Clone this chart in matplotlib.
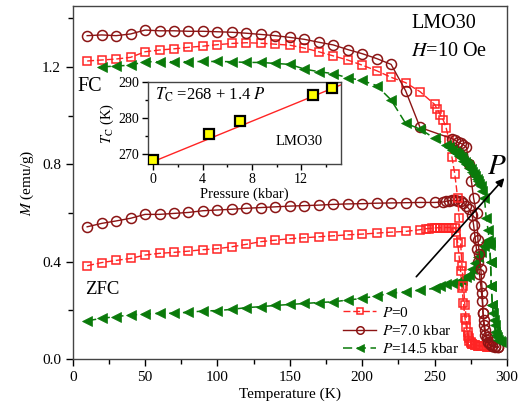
import matplotlib
matplotlib.use("Agg")
import matplotlib.pyplot as plt
from matplotlib.ticker import MultipleLocator, FormatStrFormatter

plt.rcParams['font.family'] = ['Liberation Serif', 'DejaVu Serif']
plt.rcParams['mathtext.fontset'] = 'stix'

# ---- magnetization data (T in K, M in emu/g) ----
T_fc0 = [10, 20, 30, 40, 50, 60, 70, 80, 90, 100, 110, 120, 130, 140, 150, 160, 170, 180,
         190, 200, 210, 220, 230, 240, 250, 252, 254, 256, 258, 260, 262, 264, 266, 267,
         268, 269, 270, 271, 272, 273, 274, 275, 276, 278, 280, 282, 284, 286, 288]
M_fc0 = [1.224, 1.228, 1.232, 1.239, 1.262, 1.269, 1.274, 1.280, 1.285, 1.291, 1.296, 1.299,
         1.297, 1.293, 1.289, 1.277, 1.262, 1.245, 1.228, 1.207, 1.184, 1.157, 1.135, 1.098,
         1.046, 1.025, 1.003, 0.982, 0.950, 0.90, 0.83, 0.76, 0.66, 0.58, 0.48, 0.38, 0.30,
         0.22, 0.16, 0.11, 0.085, 0.07, 0.062, 0.058, 0.055, 0.053, 0.052, 0.051, 0.05]

T_zfc0 = [10, 20, 30, 40, 50, 60, 70, 80, 90, 100, 110, 120, 130, 140, 150, 160, 170, 180,
          190, 200, 210, 220, 230, 240, 244, 246, 248, 250, 252, 254, 256, 258, 260, 262,
          264, 265, 266, 267, 268, 269, 270, 271, 272, 273, 274, 275, 276, 278, 280, 282,
          284, 286]
M_zfc0 = [0.383, 0.396, 0.405, 0.413, 0.427, 0.434, 0.438, 0.443, 0.449, 0.453, 0.461, 0.471,
          0.482, 0.488, 0.494, 0.498, 0.502, 0.506, 0.510, 0.513, 0.517, 0.521, 0.524, 0.531,
          0.535, 0.536, 0.537, 0.538, 0.539, 0.539, 0.540, 0.540, 0.540, 0.540, 0.540, 0.52,
          0.475, 0.42, 0.36, 0.29, 0.23, 0.17, 0.13, 0.095, 0.075, 0.065, 0.06, 0.057, 0.055,
          0.053, 0.052, 0.051]

T_fc7 = [10, 20, 30, 40, 50, 60, 70, 80, 90, 100, 110, 120, 130, 140, 150, 160, 170, 180,
         190, 200, 210, 220, 230, 240, 262, 264, 266, 268, 270, 272, 274, 275.5, 277, 279,
         280, 281, 282, 283, 283.5, 284, 285, 286, 287, 288, 290, 292, 294]
M_fc7 = [1.328, 1.331, 1.328, 1.335, 1.351, 1.348, 1.348, 1.346, 1.346, 1.344, 1.342, 1.338,
         1.333, 1.328, 1.321, 1.313, 1.301, 1.290, 1.271, 1.254, 1.234, 1.210, 1.102, 0.951,
         0.905, 0.90, 0.89, 0.886, 0.88, 0.87, 0.80, 0.73, 0.66, 0.60, 0.49, 0.43, 0.37,
         0.27, 0.19, 0.16, 0.12, 0.09, 0.07, 0.06, 0.055, 0.052, 0.05]

T_zfc7 = [10, 20, 30, 40, 50, 60, 70, 80, 90, 100, 110, 120, 130, 140, 150, 160, 170, 180,
          190, 200, 210, 220, 230, 240, 250, 256, 258, 260, 262, 264, 266, 268, 270, 272,
          274, 276, 277, 278, 279, 280, 281, 282, 283, 283.5, 284, 285, 286, 287, 288, 290,
          292, 294]
M_zfc7 = [0.543, 0.557, 0.567, 0.578, 0.594, 0.594, 0.598, 0.602, 0.609, 0.612, 0.615, 0.619,
          0.622, 0.625, 0.628, 0.630, 0.632, 0.635, 0.637, 0.638, 0.640, 0.641, 0.642, 0.643,
          0.643, 0.645, 0.648, 0.650, 0.652, 0.652, 0.650, 0.648, 0.640, 0.630, 0.615, 0.59,
          0.55, 0.50, 0.45, 0.40, 0.35, 0.30, 0.24, 0.19, 0.14, 0.10, 0.08, 0.065, 0.058,
          0.053, 0.05, 0.048]

T_fc14 = [20, 30, 40, 50, 60, 70, 80, 90, 100, 110, 120, 130, 140, 150, 160, 170, 180, 190,
          200, 210, 220, 230, 240, 250, 258, 260, 262, 264, 265, 266, 267, 268, 269, 270,
          271, 272, 273, 274, 275, 276, 277, 278, 279, 280, 281, 282, 283, 284.5, 285.7,
          287, 288, 288.7, 289.2, 290, 290.5, 291.5, 292.6, 294, 296]
M_fc14 = [1.200, 1.203, 1.207, 1.221, 1.221, 1.221, 1.221, 1.222, 1.222, 1.221, 1.218, 1.218,
          1.214, 1.210, 1.191, 1.180, 1.172, 1.155, 1.144, 1.123, 1.064, 0.968, 0.945, 0.906,
          0.879, 0.87, 0.86, 0.85, 0.845, 0.84, 0.835, 0.83, 0.825, 0.815, 0.81, 0.80, 0.795,
          0.785, 0.78, 0.77, 0.76, 0.75, 0.74, 0.73, 0.72, 0.71, 0.69, 0.66, 0.58, 0.53,
          0.48, 0.40, 0.30, 0.22, 0.19, 0.14, 0.10, 0.08, 0.07]

T_zfc14 = [10, 20, 30, 40, 50, 60, 70, 80, 90, 100, 110, 120, 130, 140, 150, 160, 170, 180,
           190, 200, 210, 220, 230, 240, 250, 254, 258, 262, 266, 269, 272, 274, 276, 278,
           280, 282, 284, 285.5, 287, 288, 288.7, 289.2, 290, 291, 292, 293, 295]
M_zfc14 = [0.157, 0.167, 0.174, 0.181, 0.184, 0.188, 0.188, 0.192, 0.197, 0.199, 0.204, 0.211,
           0.215, 0.220, 0.224, 0.228, 0.232, 0.235, 0.242, 0.249, 0.259, 0.270, 0.276, 0.283,
           0.290, 0.300, 0.307, 0.313, 0.318, 0.324, 0.335, 0.345, 0.37, 0.395, 0.42, 0.44,
           0.465, 0.48, 0.49, 0.47, 0.40, 0.30, 0.22, 0.16, 0.11, 0.09, 0.075]

# ---- inset: Curie temperature vs pressure ----
pressure = [0, 4.5, 7.0, 13.0, 14.5]
Tc = [268.3, 275.6, 279.4, 286.5, 288.4]
fit_p = [-0.5, 15.2]
fit_a, fit_b = 268, 1.4

legend_labels = [r"$P$=0", r"$P$=7.0 kbar", r"$P$=14.5 kbar"]

RED = '#ff2424'
DRED = '#8b1414'
GREEN = '#0a7a0a'
SPINE = '#444444'

fig = plt.figure(figsize=(5.2, 4.11), dpi=100)
ax = fig.add_axes([0.1398, 0.1265, 0.835, 0.859])

red_kw = dict(color=RED, ls=(0, (5, 2)), lw=1.0, marker='s', ms=6.0, mfc='none', mew=1.1)
dred_kw = dict(color=DRED, ls='-', lw=1.0, marker='o', ms=7.2, mfc='none', mew=1.1)
green_kw = dict(color=GREEN, ls=(0, (6, 3)), lw=1.1, marker='<', ms=7.5, mfc=GREEN, mew=0.5)

ax.plot(T_zfc0, M_zfc0, **red_kw)
ax.plot(T_zfc7, M_zfc7, **dred_kw)
ax.plot(T_zfc14, M_zfc14, **green_kw)
l0, = ax.plot(T_fc0, M_fc0, label=legend_labels[0], **red_kw)
l7, = ax.plot(T_fc7, M_fc7, label=legend_labels[1], **dred_kw)
l14, = ax.plot(T_fc14, M_fc14, label=legend_labels[2], **green_kw)

ax.set_xlim(0, 300)
ax.set_ylim(0, 1.45)
ax.xaxis.set_major_locator(MultipleLocator(50))
ax.xaxis.set_minor_locator(MultipleLocator(25))
ax.yaxis.set_major_locator(MultipleLocator(0.4))
ax.yaxis.set_minor_locator(MultipleLocator(0.2))
ax.yaxis.set_major_formatter(FormatStrFormatter('%.1f'))
ax.tick_params(which='both', direction='out', top=False, right=False,
               labelsize=11, colors='black', width=1.0)
ax.tick_params(which='major', length=5)
ax.tick_params(which='minor', length=3.5)
for s in ax.spines.values():
    s.set_color(SPINE)
    s.set_linewidth(1.0)

ax.set_xlabel("Temperature (K)", fontsize=11, labelpad=3)
ax.set_ylabel(r"$M$ (emu/g)", fontsize=11, labelpad=4)

ax.text(234, 1.376, "LMO30", fontsize=14.5, ha='left', va='center')
ax.text(234, 1.261, r"$H$=10 Oe", fontsize=14.5, ha='left', va='center')
ax.text(3, 1.121, "FC", fontsize=14.5, ha='left', va='center')
ax.text(8.5, 0.287, "ZFC", fontsize=13.5, ha='left', va='center')
ax.text(293, 0.79, r"$P$", fontsize=21, ha='center', va='center')
ax.annotate("", xy=(298.3, 0.743), xytext=(237.4, 0.338),
            arrowprops=dict(arrowstyle='-|>', color='black', lw=1.2,
                            mutation_scale=12, shrinkA=0, shrinkB=0))

leg = ax.legend(handles=[l0, l7, l14], loc='lower left', bbox_to_anchor=(0.622, 0.008),
                frameon=False, fontsize=11, handlelength=2.2, handletextpad=0.4,
                labelspacing=0.28, borderpad=0, borderaxespad=0, markerscale=0.75)

# inset
ins = fig.add_axes([0.284, 0.600, 0.371, 0.1995])
ins.set_facecolor('white')
ins.plot(fit_p, [fit_a + fit_b * p for p in fit_p], color=RED, lw=1.0, zorder=2)
ins.plot(pressure, Tc, ls='none', marker='s', ms=6.5, mfc='#ffff00', mec='black',
         mew=1.6, zorder=3)
ins.set_xlim(-0.46, 15.2)
ins.set_ylim(267.2, 290)
ins.xaxis.set_major_locator(MultipleLocator(4))
ins.xaxis.set_minor_locator(MultipleLocator(2))
ins.yaxis.set_major_locator(MultipleLocator(10))
ins.yaxis.set_minor_locator(MultipleLocator(5))
ins.tick_params(which='both', direction='out', top=False, right=False,
                labelsize=10, width=1.0, pad=2)
ins.tick_params(which='major', length=4)
ins.tick_params(which='minor', length=2.5)
for s in ins.spines.values():
    s.set_color(SPINE)
    s.set_linewidth(1.0)
ins.set_xlabel("Pressure (kbar)", fontsize=10.5, labelpad=1)
ins.set_ylabel(r"$T_{\rm C}$ (K)", fontsize=10.5, labelpad=2)
ins.text(0.038, 0.845, r"$T_{\rm C}$ =268 + 1.4 $P$", transform=ins.transAxes,
         fontsize=12, ha='left', va='center')
ins.text(0.663, 0.276, "LMO30", transform=ins.transAxes, fontsize=10.5,
         ha='left', va='center')

fig.savefig("out.png", dpi=100)
